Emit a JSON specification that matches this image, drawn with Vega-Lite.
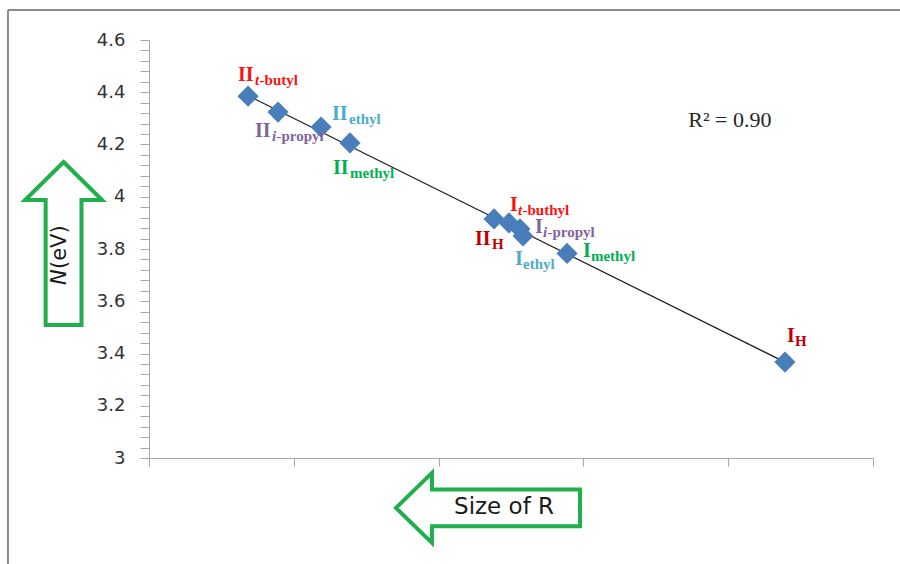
{
  "$schema": "https://vega.github.io/schema/vega-lite/v6.json",
  "width": 724,
  "height": 418,
  "autosize": "none",
  "padding": {"left": 149, "top": 40, "right": 27, "bottom": 106},
  "background": "white",
  "config": {"view": {"stroke": null}},
  "resolve": {"axis": {"x": "independent", "y": "independent"}},
  "datasets": {
    "pts": [
      {"name": "II t-butyl", "main": "II", "pre": "t", "rest": "-butyl", "grp": "t-butyl", "x": 0.684, "y": 4.385, "lx": 0.615, "ly": 4.443},
      {"name": "II i-propyl", "main": "II", "pre": "i", "rest": "-propyl", "grp": "i-propyl", "x": 0.891, "y": 4.324, "lx": 0.732, "ly": 4.229},
      {"name": "II ethyl", "main": "II", "pre": "", "rest": "ethyl", "grp": "ethyl", "x": 1.188, "y": 4.267, "lx": 1.264, "ly": 4.294},
      {"name": "II methyl", "main": "II", "pre": "", "rest": "methyl", "grp": "methyl", "x": 1.388, "y": 4.206, "lx": 1.271, "ly": 4.087},
      {"name": "II H", "main": "II", "pre": "", "rest": "H", "grp": "H", "x": 2.383, "y": 3.915, "lx": 2.251, "ly": 3.815},
      {"name": "I t-buthyl", "main": "I", "pre": "t", "rest": "-buthyl", "grp": "t-butyl", "x": 2.486, "y": 3.90, "lx": 2.493, "ly": 3.945},
      {"name": "I i-propyl", "main": "I", "pre": "i", "rest": "-propyl", "grp": "i-propyl", "x": 2.562, "y": 3.877, "lx": 2.666, "ly": 3.862},
      {"name": "I ethyl", "main": "I", "pre": "", "rest": "ethyl", "grp": "ethyl", "x": 2.583, "y": 3.85, "lx": 2.528, "ly": 3.739},
      {"name": "I methyl", "main": "I", "pre": "", "rest": "methyl", "grp": "methyl", "x": 2.887, "y": 3.783, "lx": 2.997, "ly": 3.769},
      {"name": "I H", "main": "I", "pre": "", "rest": "H", "grp": "H", "x": 4.392, "y": 3.367, "lx": 4.406, "ly": 3.444}
    ],
    "trend": [
      {"x": 0.684, "y": 4.387},
      {"x": 4.392, "y": 3.367}
    ]
  },
  "layer": [
    {
      "data": {"name": "trend"},
      "mark": {"type": "line", "color": "#1a1a1a", "strokeWidth": 1.2},
      "encoding": {
        "x": {"field": "x", "type": "quantitative", "title": null, "scale": {"domain": [0, 5], "nice": false, "zero": false},
          "axis": {"values": [0, 1, 2, 3, 4, 5], "labels": false, "tickSize": 8, "tickColor": "#A6A6A6", "domainColor": "#A6A6A6", "grid": false, "title": null}},
        "y": {"field": "y", "type": "quantitative", "title": null, "scale": {"domain": [3, 4.6], "nice": false, "zero": false},
          "axis": {
            "values": [3.00,3.04,3.08,3.12,3.16,3.20,3.24,3.28,3.32,3.36,3.40,3.44,3.48,3.52,3.56,3.60,3.64,3.68,3.72,3.76,3.80,3.84,3.88,3.92,3.96,4.00,4.04,4.08,4.12,4.16,4.20,4.24,4.28,4.32,4.36,4.40,4.44,4.48,4.52,4.56,4.60],
            "labelExpr": "abs(datum.value*5 - round(datum.value*5)) < 0.001 ? format(datum.value, '~g') : ''",
            "labelOverlap": false,
            "labelFont": "DejaVu Sans",
            "labelFontSize": 18,
            "labelColor": "#333333",
            "labelPadding": 15,
            "tickSize": 9,
            "tickColor": "#A6A6A6",
            "domainColor": "#A6A6A6",
            "grid": false,
            "title": null,
            "encode": {"ticks": {"update": {"x": {"value": 7}, "x2": {"signal": "abs(datum.value*5 - round(datum.value*5)) < 0.001 ? -9 : 0"}}}}
          }}
      }
    },
    {
      "data": {"name": "pts"},
      "mark": {"type": "point", "shape": "diamond", "filled": true, "size": 450, "opacity": 1, "color": "#4A7EBB"},
      "encoding": {
        "x": {"field": "x", "type": "quantitative", "axis": null, "scale": {"domain": [0, 5], "nice": false, "zero": false}},
        "y": {"field": "y", "type": "quantitative", "axis": null, "scale": {"domain": [3, 4.6], "nice": false, "zero": false}}
      }
    },
    {
      "data": {"name": "pts"},
      "encoding": {
        "x": {"field": "lx", "type": "quantitative", "axis": null, "scale": {"domain": [0, 5], "nice": false, "zero": false}},
        "y": {"field": "ly", "type": "quantitative", "axis": null, "scale": {"domain": [3, 4.6], "nice": false, "zero": false}},
        "color": {"field": "grp", "type": "nominal", "legend": null,
          "scale": {"domain": ["t-butyl", "i-propyl", "ethyl", "methyl", "H"], "range": ["#FF1010", "#8064A2", "#4BACC6", "#00B050", "#C00000"]}}
      },
      "layer": [
        {
          "mark": {"type": "text", "align": "left", "baseline": "alphabetic", "font": "Liberation Serif", "fontWeight": "bold", "fontSize": 20},
          "encoding": {"text": {"field": "main"}}
        },
        {
          "transform": [{"filter": "datum.main === 'II' && datum.pre === ''"}],
          "mark": {"type": "text", "align": "left", "baseline": "alphabetic", "font": "Liberation Serif", "fontWeight": "bold", "fontSize": 15, "dx": 17, "dy": 4},
          "encoding": {"text": {"field": "rest"}}
        },
        {
          "transform": [{"filter": "datum.main === 'I' && datum.pre === ''"}],
          "mark": {"type": "text", "align": "left", "baseline": "alphabetic", "font": "Liberation Serif", "fontWeight": "bold", "fontSize": 15, "dx": 8, "dy": 4},
          "encoding": {"text": {"field": "rest"}}
        },
        {
          "transform": [{"filter": "datum.main === 'II' && datum.pre !== ''"}],
          "mark": {"type": "text", "align": "left", "baseline": "alphabetic", "font": "Liberation Serif", "fontWeight": "bold", "fontStyle": "italic", "fontSize": 15, "dx": 17, "dy": 4},
          "encoding": {"text": {"field": "pre"}}
        },
        {
          "transform": [{"filter": "datum.main === 'II' && datum.pre !== ''"}],
          "mark": {"type": "text", "align": "left", "baseline": "alphabetic", "font": "Liberation Serif", "fontWeight": "bold", "fontSize": 15, "dx": 21.5, "dy": 4},
          "encoding": {"text": {"field": "rest"}}
        },
        {
          "transform": [{"filter": "datum.main === 'I' && datum.pre !== ''"}],
          "mark": {"type": "text", "align": "left", "baseline": "alphabetic", "font": "Liberation Serif", "fontWeight": "bold", "fontStyle": "italic", "fontSize": 15, "dx": 8, "dy": 4},
          "encoding": {"text": {"field": "pre"}}
        },
        {
          "transform": [{"filter": "datum.main === 'I' && datum.pre !== ''"}],
          "mark": {"type": "text", "align": "left", "baseline": "alphabetic", "font": "Liberation Serif", "fontWeight": "bold", "fontSize": 15, "dx": 12.5, "dy": 4},
          "encoding": {"text": {"field": "rest"}}
        }
      ]
    },
    {
      "data": {"values": [{"label": "R² = 0.90"}]},
      "mark": {"type": "text", "align": "center", "baseline": "alphabetic", "font": "Liberation Serif", "fontSize": 22, "color": "#262626"},
      "encoding": {
        "x": {"datum": 4.012, "type": "quantitative", "axis": null, "scale": {"domain": [0, 5], "nice": false, "zero": false}},
        "y": {"datum": 4.267, "type": "quantitative", "axis": null, "scale": {"domain": [3, 4.6], "nice": false, "zero": false}},
        "text": {"field": "label"}
      }
    },
    {
      "data": {"values": [{}]},
      "mark": {"type": "point", "shape": "M0,-1L0.472,-0.534L0.22,-0.534L0.22,1L-0.22,1L-0.22,-0.534L-0.472,-0.534Z", "size": 26569, "fill": "white", "fillOpacity": 1, "stroke": "#1FAF4B", "strokeWidth": 4, "opacity": 1},
      "encoding": {
        "x": {"datum": -0.590, "type": "quantitative", "axis": null, "scale": {"domain": [0, 5], "nice": false, "zero": false}},
        "y": {"datum": 3.821, "type": "quantitative", "axis": null, "scale": {"domain": [3, 4.6], "nice": false, "zero": false}}
      }
    },
    {
      "data": {"values": [{}]},
      "mark": {"type": "point", "shape": "M-1,0L-0.609,-0.38L-0.609,-0.2L1,-0.2L1,0.2L-0.609,0.2L-0.609,0.38Z", "size": 33856, "fill": "white", "fillOpacity": 1, "stroke": "#1FAF4B", "strokeWidth": 4, "opacity": 1},
      "encoding": {
        "x": {"datum": 2.341, "type": "quantitative", "axis": null, "scale": {"domain": [0, 5], "nice": false, "zero": false}},
        "y": {"datum": 2.809, "type": "quantitative", "axis": null, "scale": {"domain": [3, 4.6], "nice": false, "zero": false}}
      }
    },
    {
      "data": {"values": [{"label": "Size of R"}]},
      "mark": {"type": "text", "align": "center", "baseline": "middle", "font": "DejaVu Sans", "fontSize": 23, "color": "#1a1a1a"},
      "encoding": {
        "x": {"datum": 2.452, "type": "quantitative", "axis": null, "scale": {"domain": [0, 5], "nice": false, "zero": false}},
        "y": {"datum": 2.812, "type": "quantitative", "axis": null, "scale": {"domain": [3, 4.6], "nice": false, "zero": false}},
        "text": {"field": "label"}
      }
    },
    {
      "data": {"values": [{"label": "N"}]},
      "mark": {"type": "text", "align": "left", "baseline": "middle", "angle": 270, "font": "DejaVu Sans", "fontStyle": "italic", "fontSize": 21, "color": "#1a1a1a"},
      "encoding": {
        "x": {"datum": -0.615, "type": "quantitative", "axis": null, "scale": {"domain": [0, 5], "nice": false, "zero": false}},
        "y": {"datum": 3.662, "type": "quantitative", "axis": null, "scale": {"domain": [3, 4.6], "nice": false, "zero": false}},
        "text": {"field": "label"}
      }
    },
    {
      "data": {"values": [{"label": "(eV)"}]},
      "mark": {"type": "text", "align": "left", "baseline": "middle", "angle": 270, "dx": 16, "font": "DejaVu Sans", "fontSize": 21, "color": "#1a1a1a"},
      "encoding": {
        "x": {"datum": -0.615, "type": "quantitative", "axis": null, "scale": {"domain": [0, 5], "nice": false, "zero": false}},
        "y": {"datum": 3.662, "type": "quantitative", "axis": null, "scale": {"domain": [3, 4.6], "nice": false, "zero": false}},
        "text": {"field": "label"}
      }
    },
    {
      "data": {"values": [{}]},
      "mark": {"type": "rule", "color": "#8A8A8A", "strokeWidth": 2},
      "encoding": {
        "x": {"datum": -0.974, "type": "quantitative", "axis": null, "scale": {"domain": [0, 5], "nice": false, "zero": false}},
        "y": {"datum": 4.715, "type": "quantitative", "axis": null, "scale": {"domain": [3, 4.6], "nice": false, "zero": false}},
        "y2": {"datum": 2.5}
      }
    },
    {
      "data": {"values": [{}]},
      "mark": {"type": "rule", "color": "#8A8A8A", "strokeWidth": 2},
      "encoding": {
        "x": {"datum": -0.974, "type": "quantitative", "axis": null, "scale": {"domain": [0, 5], "nice": false, "zero": false}},
        "x2": {"datum": 5.3},
        "y": {"datum": 4.715, "type": "quantitative", "axis": null, "scale": {"domain": [3, 4.6], "nice": false, "zero": false}}
      }
    }
  ]
}
